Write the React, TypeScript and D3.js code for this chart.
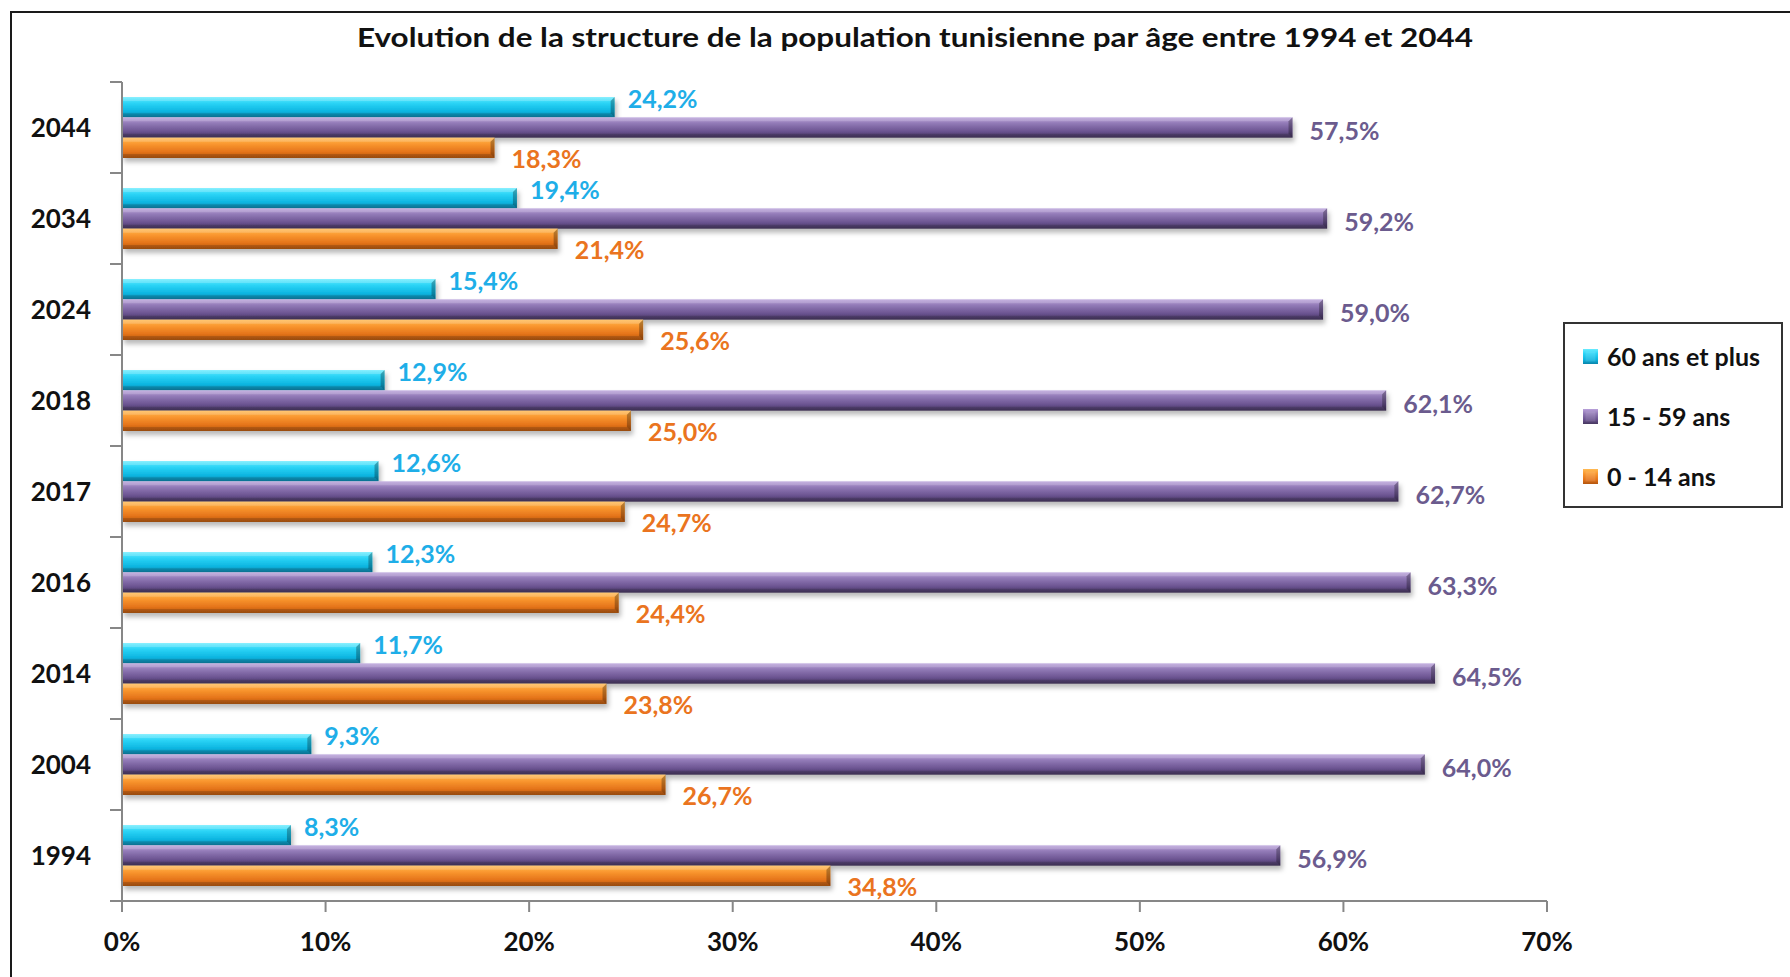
import React from 'react';
import * as d3 from 'd3';

const years = ['2044', '2034', '2024', '2018', '2017', '2016', '2014', '2004', '1994'];
const plus60 = [24.2, 19.4, 15.4, 12.9, 12.6, 12.3, 11.7, 9.3, 8.3];
const age15to59 = [57.5, 59.2, 59.0, 62.1, 62.7, 63.3, 64.5, 64.0, 56.9];
const age0to14 = [18.3, 21.4, 25.6, 25.0, 24.7, 24.4, 23.8, 26.7, 34.8];
const xTicks = [0, 10, 20, 30, 40, 50, 60, 70];

const series = [
  { key: 'old', label: '60 ans et plus', values: plus60, text: '#1eaee8', stops: ['#6aecff', '#2ad4f6', '#0db6e1', '#0a84aa'], dx: 13, dy: -8 },
  { key: 'mid', label: '15 - 59 ans', values: age15to59, text: '#6b5b8e', stops: ['#b9a1da', '#9179b6', '#6a5390', '#47375f'], dx: 17, dy: 3 },
  { key: 'young', label: '0 - 14 ans', values: age0to14, text: '#ea7420', stops: ['#ffbb55', '#fa982f', '#e5741a', '#b3560f'], dx: 17, dy: 11 },
];

const font = 'Lato, "Open Sans", sans-serif';
const fmt = (v: number) => d3.format('.1f')(v).replace('.', ',') + '%';

const App = () => {
  const width = 1790;
  const height = 977;
  const x = d3.scaleLinear().domain([0, 70]).range([122, 1547]);
  const y = d3.scaleBand().domain(years).range([82, 901]);
  const yInner = d3.scaleBand().domain(series.map(s => s.key)).range([0, y.bandwidth()]).paddingOuter(0.74);
  const bh = yInner.bandwidth();
  const bev = 4;

  return (
    <svg width={width} height={height} style={{ position: 'absolute', left: 0, top: 0, background: '#fff' }}>
      <defs>
        {series.map(s => (
          <linearGradient key={s.key} id={`g-${s.key}`} x1="0" y1="0" x2="0" y2="1">
            <stop offset="0%" stopColor={s.stops[0]} />
            <stop offset="30%" stopColor={s.stops[1]} />
            <stop offset="70%" stopColor={s.stops[2]} />
            <stop offset="100%" stopColor={s.stops[3]} />
          </linearGradient>
        ))}
        <filter id="shadow" x="-5%" y="-30%" width="110%" height="180%">
          <feDropShadow dx="2" dy="4" stdDeviation="2.5" floodColor="#000" floodOpacity="0.28" />
        </filter>
      </defs>

      <rect x={11} y={12} width={1800} height={1000} fill="none" stroke="#1a1a1a" strokeWidth={2} />

      <text x={915} y={47} textAnchor="middle" fontFamily={font} fontWeight="bold" fontSize={26}
        textLength={1116} lengthAdjust="spacingAndGlyphs" fill="#111">
        Evolution de la structure de la population tunisienne par âge entre 1994 et 2044
      </text>

      {/* bars */}
      {years.map((yr, i) => (
        <g key={yr} transform={`translate(0, ${y(yr)})`}>
          {series.map(s => {
            const v = s.values[i];
            const x0 = x(0);
            const x1 = x(v);
            const by = yInner(s.key)!;
            return (
              <g key={s.key}>
                <rect x={x0} y={by} width={x1 - x0} height={bh} fill={`url(#g-${s.key})`} filter="url(#shadow)" />
                <polygon points={`${x0},${by} ${x1},${by} ${x1 - bev},${by + bev} ${x0},${by + bev}`} fill="#fff" opacity={0.18} />
                <polygon points={`${x0},${by + bh - bev} ${x1 - bev},${by + bh - bev} ${x1},${by + bh} ${x0},${by + bh}`} fill="#000" opacity={0.15} />
                <polygon points={`${x1},${by} ${x1},${by + bh} ${x1 - bev},${by + bh - bev} ${x1 - bev},${by + bev}`} fill="#000" opacity={0.28} />
              </g>
            );
          })}
        </g>
      ))}

      {/* axes */}
      <g stroke="#878787" strokeWidth={2} fill="none">
        <line x1={x(0)} x2={x(0)} y1={y.range()[0]} y2={y.range()[1] + 11} />
        <line x1={x(0)} x2={x(70)} y1={y.range()[1]} y2={y.range()[1]} />
        {years.map(yr => (
          <line key={yr} x1={x(0) - 12} x2={x(0)} y1={y(yr)!} y2={y(yr)!} />
        ))}
        <line x1={x(0) - 12} x2={x(0)} y1={y.range()[1]} y2={y.range()[1]} />
        {xTicks.map(t => (
          <line key={t} x1={x(t)} x2={x(t)} y1={y.range()[1]} y2={y.range()[1] + 11} />
        ))}
      </g>

      {years.map(yr => (
        <text key={yr} x={91} y={y(yr)! + y.bandwidth() / 2} dy="0.36em" textAnchor="end"
          fontFamily={font} fontWeight="bold" fontSize={26} fill="#111">{yr}</text>
      ))}

      {xTicks.map(t => (
        <text key={t} x={x(t)} y={951} textAnchor="middle" fontFamily={font} fontWeight="bold" fontSize={26} fill="#111">
          {t}%
        </text>
      ))}

      {/* value labels */}
      {years.map((yr, i) => (
        <g key={yr}>
          {series.map(s => (
            <text key={s.key} x={x(s.values[i]) + s.dx} y={y(yr)! + yInner(s.key)! + bh / 2 + s.dy} dy="0.36em"
              fontFamily={font} fontWeight="bold" fontSize={25} fill={s.text}>
              {fmt(s.values[i])}
            </text>
          ))}
        </g>
      ))}

      {/* legend */}
      <rect x={1564} y={323} width={218} height={184} fill="#fff" stroke="#333" strokeWidth={2} />
      {series.map((s, i) => {
        const cy = 357 + i * 60;
        return (
          <g key={s.key}>
            <rect x={1583} y={cy - 8} width={15} height={15} fill={`url(#g-${s.key})`} />
            <rect x={1585.5} y={cy - 5.5} width={10} height={10} fill="#fff" opacity={0.12} />
            <text x={1607} y={cy} dy="0.36em" fontFamily={font} fontWeight="bold" fontSize={25} fill="#111">{s.label}</text>
          </g>
        );
      })}
    </svg>
  );
};

export default App;
